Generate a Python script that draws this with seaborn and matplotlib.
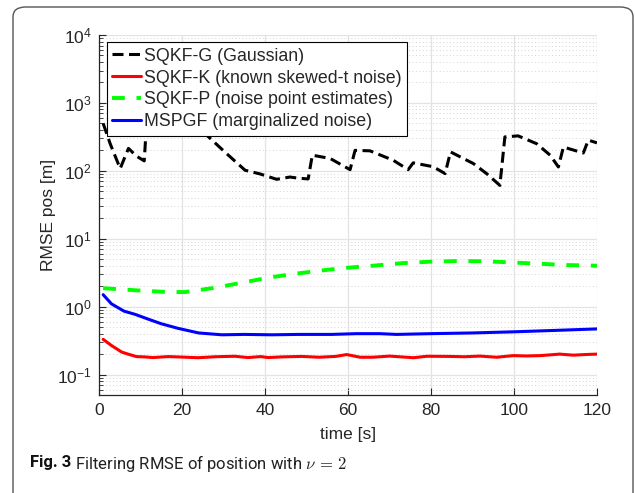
import pandas as pd
import matplotlib.pyplot as plt
import seaborn as sns
from matplotlib.patches import FancyBboxPatch
from matplotlib.ticker import LogLocator, NullFormatter

# values
t_gauss = [1, 2.7, 5.1, 7.1, 9, 10.9, 11.8, 16, 20, 24, 26.3, 30.5, 35.2, 38.8,
           42.8, 46, 48, 50.4, 51.4, 55.7, 60.5, 61.7, 65.3, 70.9, 74.5, 75.7,
           80.5, 83.4, 84.7, 90.2, 93.4, 96.6, 97.8, 101, 105.5, 108.7, 110.7,
           111.9, 116.7, 117.9, 120]
rmse_gauss = [500, 250, 108, 214, 165, 140, 1100, 800, 580, 420, 320, 185, 102, 90,
              75, 81, 78, 76, 170, 152, 104, 200, 197, 143, 104, 131,
              115, 91, 190, 128, 91, 61, 316, 327, 250, 170, 114,
              224, 183, 283, 258]

t_known = [1, 3, 5.5, 7, 9, 11, 13, 16.7, 20, 23.9, 28, 32.7, 35.9, 39, 40.7, 44,
           48.8, 53, 57, 59.7, 62.9, 66, 70, 75.8, 79, 84.6, 88, 91.8, 95.8, 99.8,
           103, 106.3, 111, 114.3, 117, 120]
rmse_known = [0.33, 0.268, 0.214, 0.20, 0.184, 0.182, 0.178, 0.184, 0.181, 0.177,
              0.183, 0.186, 0.178, 0.184, 0.178, 0.182, 0.185, 0.18, 0.185, 0.197,
              0.18, 0.18, 0.187, 0.177, 0.186, 0.185, 0.183, 0.187, 0.18, 0.19,
              0.188, 0.19, 0.20, 0.193, 0.197, 0.20]

t_point = [1, 9.5, 16.7, 20.7, 28, 34.4, 40.8, 47.2, 55.3, 58.9, 66.9, 73.3, 79.8,
           86.2, 92.6, 99, 105.5, 112.7, 120]
rmse_point = [1.87, 1.73, 1.64, 1.64, 1.90, 2.25, 2.67, 3.05, 3.50, 3.70, 4.05,
              4.38, 4.59, 4.69, 4.66, 4.49, 4.30, 4.10, 4.01]

t_marg = [1, 3, 6, 8.7, 12, 15, 19, 24, 29.6, 35, 41.6, 48, 56, 62, 67.7, 71.7,
          79.8, 90, 100, 109.5, 120]
rmse_marg = [1.50, 1.10, 0.86, 0.77, 0.65, 0.56, 0.48, 0.41, 0.385, 0.39, 0.385,
             0.39, 0.39, 0.40, 0.40, 0.39, 0.40, 0.41, 0.426, 0.446, 0.47]

labels = ['SQKF-G (Gaussian)', 'SQKF-K (known skewed-t noise)',
          'SQKF-P (noise point estimates)', 'MSPGF (marginalized noise)']
x_ticks = [0, 20, 40, 60, 80, 100, 120]

sns.set_theme(style='white')
plt.rcParams['font.family'] = ['Liberation Sans', 'DejaVu Sans']

fig = plt.figure(figsize=(6.35, 4.93), dpi=100)
ax = fig.add_axes([99 / 635, 98 / 493, 498 / 635, 360 / 493])

series = [
    (t_gauss, rmse_gauss, 'black', 2.2, (3.6, 1.8)),
    (t_known, rmse_known, '#ff0000', 2.2, None),
    (t_point, rmse_point, '#00ff00', 2.8, (3.3, 3.0)),
    (t_marg, rmse_marg, '#0000ff', 2.2, None),
]
for (t, v, c, lw, dash), lab in zip(series, labels):
    df = pd.DataFrame({'time': t, 'rmse': v})
    sns.lineplot(data=df, x='time', y='rmse', ax=ax, color=c, lw=lw,
                 label=lab, sort=False, estimator=None)
    if dash is not None:
        ax.lines[-1].set_dashes(dash)

ax.set_yscale('log')
ax.set_xlim(0, 120)
ax.set_ylim(0.05, 1e4)
ax.set_xticks(x_ticks)
ax.yaxis.set_major_locator(LogLocator(base=10, numticks=10))
ax.yaxis.set_minor_locator(LogLocator(base=10, subs=range(2, 10), numticks=20))
ax.yaxis.set_minor_formatter(NullFormatter())

ax.grid(True, which='major', color='#e3e3e3', lw=0.9, ls='-')
ax.grid(True, which='minor', axis='y', color='#d4d4d4', lw=0.7, ls=(0, (1, 2.5)))
ax.set_axisbelow(True)

for s in ['top', 'right']:
    ax.spines[s].set_visible(False)
for s in ['left', 'bottom']:
    ax.spines[s].set_color('#262626')
    ax.spines[s].set_linewidth(0.9)

ax.tick_params(axis='both', which='major', direction='in', length=5, width=0.8,
               color='#262626', labelsize=12.5, labelcolor='#262626', pad=6)
ax.tick_params(axis='y', which='major', pad=5)
ax.tick_params(axis='y', which='minor', direction='in', length=3, width=0.6,
               color='#262626', left=True)
ax.tick_params(axis='x', which='both', bottom=True)
ax.tick_params(axis='y', which='major', left=True)

ax.set_xlabel('time [s]', fontsize=12.5, color='#262626', labelpad=6)
ax.set_ylabel('RMSE pos [m]', fontsize=12.5, color='#262626', labelpad=1)

leg = ax.legend(loc='upper left', bbox_to_anchor=(0.016, 0.98), fontsize=12.8,
                frameon=True, fancybox=False, framealpha=1, edgecolor='black',
                handlelength=1.6, handletextpad=0.2, labelspacing=0.28,
                borderpad=0.3, borderaxespad=0)
leg.get_frame().set_linewidth(0.8)

# caption and journal frame
cap = fig.text(30 / 635, 1 - 463 / 493, 'Fig. 3', fontsize=12, fontweight='bold',
               family='Roboto', va='center', color='#111111')
ax.annotate(r' Filtering RMSE of position with $\nu\, =\, 2$', xy=(1, 0.5),
            xycoords=cap, va='center', fontsize=12, family='Roboto',
            math_fontfamily='cm', color='#222222', annotation_clip=False)

frame = FancyBboxPatch((13 / 635, -0.05), 620 / 635, 1.05 - 7 / 493,
                       boxstyle='round,pad=0,rounding_size=0.02',
                       transform=fig.transFigure, fill=False,
                       edgecolor='#555555', lw=1.0)
fig.patches.append(frame)

fig.savefig('out.png', dpi=100)
